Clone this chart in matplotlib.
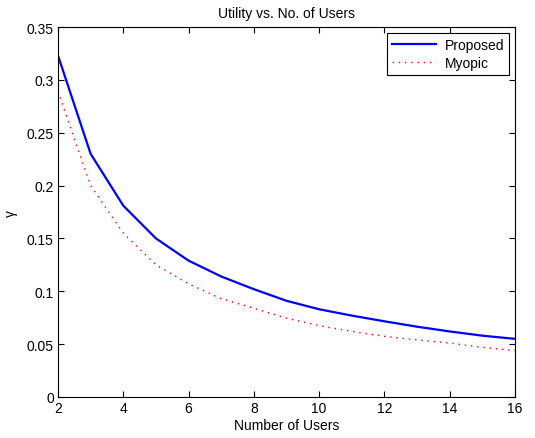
import matplotlib
matplotlib.use("Agg")
import matplotlib.pyplot as plt

users = [2, 3, 4, 5, 6, 7, 8, 9, 10, 11, 12, 13, 14, 15, 16]
proposed = [0.323, 0.230, 0.181, 0.150, 0.129, 0.114, 0.102, 0.091, 0.083,
            0.077, 0.0716, 0.0665, 0.062, 0.058, 0.055]
myopic = [0.289, 0.200, 0.155, 0.125, 0.107, 0.093, 0.084, 0.0745, 0.0675,
          0.062, 0.0574, 0.054, 0.051, 0.047, 0.0438]
xticks = [2, 4, 6, 8, 10, 12, 14, 16]
yticks = [0, 0.05, 0.1, 0.15, 0.2, 0.25, 0.3, 0.35]
ytick_labels = ["0", "0.05", "0.1", "0.15", "0.2", "0.25", "0.3", "0.35"]

plt.rcParams['font.family'] = ['Liberation Sans', 'DejaVu Sans']
plt.rcParams['font.size'] = 10

fig = plt.figure(figsize=(5.35, 4.39), dpi=100)
ax = fig.add_axes([0.1084, 0.0934, 0.8542, 0.8428])
ax.plot(users, proposed, color='#0000ff', lw=1.6, label='Proposed')
ax.plot(users, myopic, color='#ff0000', lw=1.0, ls=(0, (1, 3.5)), label='Myopic')
ax.set_xlim(2, 16)
ax.set_ylim(0, 0.35)
ax.set_xticks(xticks)
ax.set_yticks(yticks)
ax.set_yticklabels(ytick_labels)
ax.tick_params(direction='in', top=True, right=True, length=4, width=0.8,
               labelsize=10, pad=3)
for s in ax.spines.values():
    s.set_linewidth(0.8)
ax.set_title('Utility vs. No. of Users', fontsize=10, pad=7)
ax.set_xlabel('Number of Users', fontsize=10, labelpad=2)
ax.set_ylabel('γ', fontsize=10, labelpad=6)
leg = ax.legend(loc='upper right', fontsize=10, fancybox=False, framealpha=1,
                edgecolor='black', borderaxespad=0.45, handlelength=3.2,
                borderpad=0.35, labelspacing=0.3, handletextpad=0.6)
leg.get_frame().set_linewidth(0.8)
fig.savefig('out.png', dpi=100)
